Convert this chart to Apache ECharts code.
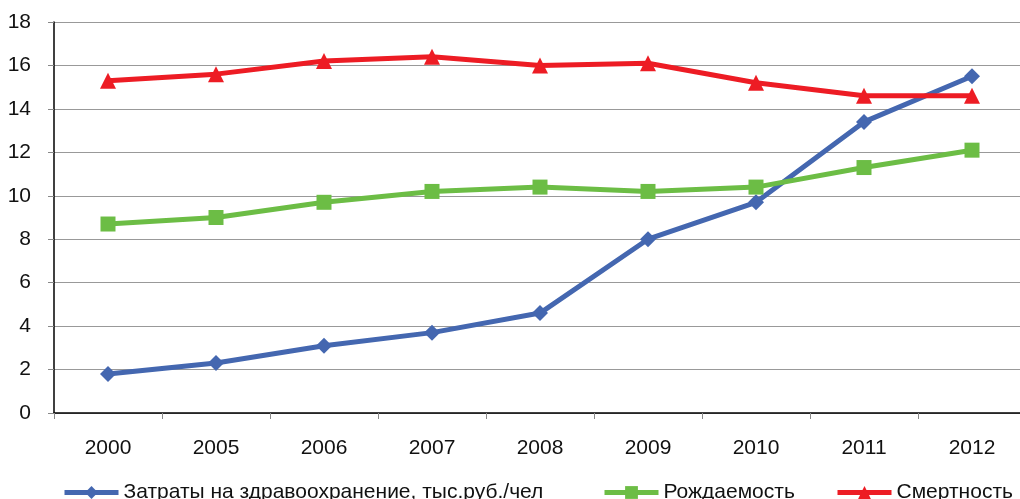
<!DOCTYPE html>
<html><head><meta charset="utf-8">
<script src="https://cdn.jsdelivr.net/npm/echarts@6/dist/echarts.min.js"></script>
<style>html,body{margin:0;padding:0;background:#fff}#c{width:1020px;height:499px}</style>
</head><body><div id="c"></div>
<script>
const years = ['2000','2005','2006','2007','2008','2009','2010','2011','2012'];
const costs = [1.8, 2.3, 3.1, 3.7, 4.6, 8.0, 9.7, 13.4, 15.5];
const births = [8.7, 9.0, 9.7, 10.2, 10.4, 10.2, 10.4, 11.3, 12.1];
const deaths = [15.3, 15.6, 16.2, 16.4, 16.0, 16.1, 15.2, 14.6, 14.6];
const names = ['Затраты на здравоохранение, тыс.руб./чел', 'Рождаемость', 'Смертность'];
const colors = ['#4467b0', '#6cbd45', '#ed1c24'];
const font = 'Liberation Sans, Arial, sans-serif';
const chart = echarts.init(document.getElementById('c'));
const legendCommon = {
  top: 482, itemWidth: 54, itemHeight: 16, itemGap: 5, padding: 0,
  lineStyle: {width: 5},
  textStyle: {fontSize: 21, color: '#111', fontFamily: font, padding: [0,0,0,0]}
};
chart.setOption({
  animation: false,
  grid: {left: 54, top: 22, width: 972, height: 391, outerBoundsMode: 'none', containLabel: false},
  legend: [
    Object.assign({left: 62, data: [names[0]]}, legendCommon),
    Object.assign({left: 602, data: [names[1]]}, legendCommon),
    Object.assign({left: 835, data: [names[2]]}, legendCommon)
  ],
  xAxis: {
    type: 'category', data: years, boundaryGap: true,
    axisLine: {lineStyle: {color: '#000', width: 1.5}},
    axisTick: {show: true, length: 6, lineStyle: {color: '#888'}},
    axisLabel: {fontSize: 21, color: '#111', fontFamily: font, margin: 25}
  },
  yAxis: {
    type: 'value', min: 0, max: 18, interval: 2,
    axisLine: {show: true, lineStyle: {color: '#000', width: 1.5}},
    axisTick: {show: true, length: 6, lineStyle: {color: '#888'}},
    axisLabel: {fontSize: 21, color: '#111', fontFamily: font, margin: 23},
    splitLine: {lineStyle: {color: '#999', width: 1.2}}
  },
  series: [
    {name: names[0], type: 'line', data: costs, color: colors[0], symbol: 'diamond', symbolSize: 16,
     lineStyle: {width: 5}},
    {name: names[1], type: 'line', data: births, color: colors[1], symbol: 'rect', symbolSize: 15,
     lineStyle: {width: 5}},
    {name: names[2], type: 'line', data: deaths, color: colors[2], symbol: 'triangle', symbolSize: 16,
     lineStyle: {width: 5}}
  ]
});
</script></body></html>
